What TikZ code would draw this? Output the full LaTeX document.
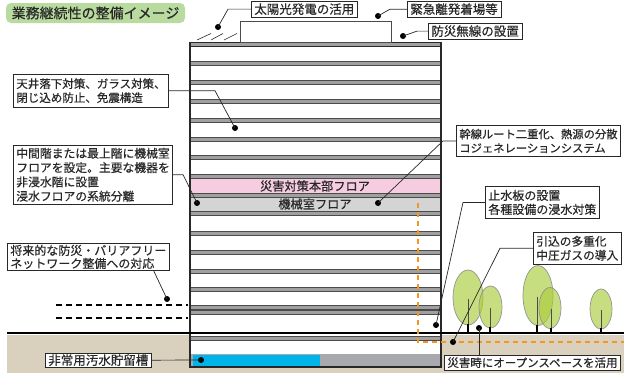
\documentclass[tikz,border=0pt]{standalone}
\usepackage{fontspec}
\setmainfont{Noto Sans CJK JP}[FakeBold=0.5]
\usetikzlibrary{calc}

\definecolor{groundtan}{RGB}{217,208,190}
\definecolor{bandgray}{RGB}{160,160,160}
\definecolor{edgegray}{RGB}{75,75,75}
\definecolor{pinkfloor}{RGB}{246,204,224}
\definecolor{machgray}{RGB}{212,212,212}
\definecolor{basegray}{RGB}{167,169,172}
\definecolor{tankblue}{RGB}{0,180,234}
\definecolor{pipeorange}{RGB}{247,150,30}
\definecolor{leafgreen}{RGB}{170,205,60}
\definecolor{titlegreen}{RGB}{185,219,160}
\definecolor{inkgray}{RGB}{40,40,40}

\newcommand{\setfs}[2]{\fontsize{#1}{#2}\selectfont}

\tikzset{
  wall/.style={draw=inkgray, line width=1.2pt},
  band/.style={draw=edgegray, fill=bandgray, line width=0.7pt},
  lbl/.style={draw=inkgray, fill=white, line width=0.7pt, inner xsep=3pt,
    inner ysep=2pt, align=left, text=inkgray, anchor=north west},
  leader/.style={draw=inkgray, line width=0.7pt},
  dot/.style={circle, fill=black, inner sep=0pt, minimum size=6pt},
  tree/.style={draw=gray!85, line width=0.7pt, fill=leafgreen, fill opacity=0.65},
  trunk/.style={draw=black, line width=1.6pt},
  stem/.style={draw=edgegray, line width=0.6pt},
  floortext/.style={text=inkgray},
}

\begin{document}
\begin{tikzpicture}[x=1pt, y=-1pt]
\useasboundingbox (0,0) rectangle (624,373);
\fill[white] (0,0) rectangle (624,373);

% ground below grade
\fill[groundtan] (7,335) rectangle (624,373);

% building body
\fill[white] (190,42) rectangle (441,367);
\fill[pinkfloor] (190,178) rectangle (441,193);
\fill[machgray] (190,197) rectangle (441,211);
\fill[basegray] (190,354) rectangle (441,367);
\fill[tankblue] (193,355) rectangle (320,366);

% floor slabs
\foreach \y in {61,80,99,118,137,155,174,193,211,231,250,269,287,305,310,336}
  \draw[band] (190,\y) rectangle (441,\y+4);
\draw[band, draw=inkgray, line width=0.9pt] (190,42) rectangle (441,46);

% penthouse on the roof
\draw[draw=edgegray, fill=white, line width=0.8pt] (240,21) rectangle (391,42);

% solar panels
\foreach \a/\b in {197/211, 211/223, 224/237}
  \draw[inkgray, line width=0.6pt] (\a,40) -- (\b,33.5);

% outer walls
\draw[wall] (190,42) -- (190,367) -- (441,367) -- (441,42);

% floor names
\node[floortext, font=\setfs{12.2}{14}] (hqfloor) at (315,186) {災害対策本部フロア};
\node[floortext, font=\setfs{12.2}{14}] (mechfloor) at (315,204) {機械室フロア};

% trees
\foreach \cx/\cy/\rx/\ry/\tx in {468/297.5/15/27.5/468, 490.5/307/11.5/21/490,
    538/295.5/15/30/537, 550/308/11/20.5/551, 601/309/11/20/601}{
  \draw[tree] (\cx,\cy) ellipse [x radius=\rx, y radius=\ry];
  \draw[stem] (\tx,\cy+1) -- (\tx,\cy+\ry-1);
  \draw[trunk] (\tx,\cy+\ry-1) -- (\tx,333);
}

% ground line
\draw[black, line width=2.4pt] (7,333) -- (624,333);

% medium-pressure gas pipe
\draw[pipeorange, line width=1.8pt, dash pattern=on 5pt off 4pt]
  (418,203) -- (418,342) -- (624,342);

% future network lines
\draw[black, line width=1.8pt, dash pattern=on 6pt off 4pt] (56,305) -- (188,305);
\draw[black, line width=1.8pt, dash pattern=on 6pt off 4pt] (56,318) -- (188,318);

% title
\node[fill=titlegreen, rounded corners=5pt, minimum width=179pt, minimum height=20pt,
  inner sep=0pt, text=inkgray, font=\setfs{14}{16}] (title) at (95.5,13) {業務継続性の整備イメージ};

% labels
\node[lbl, font=\setfs{12.5}{14}] (solar) at (251,1) {太陽光発電の活用};
\node[lbl, font=\setfs{12.5}{14}] (heli) at (407,1) {緊急離発着場等};
\node[lbl, font=\setfs{12.5}{14}] (radio) at (428,23) {防災無線の設置};
\node[lbl, font=\setfs{11.5}{14}, inner ysep=4pt] (ceiling) at (13,74)
  {天井落下対策、ガラス対策、\\閉じ込め防止、免震構造};
\node[lbl, font=\setfs{11.8}{14.3}, inner ysep=2.5pt] (mech) at (13,145)
  {中間階または最上階に機械室\\フロアを設定。主要な機器を\\非浸水階に設置\\浸水フロアの系統分離};
\node[lbl, font=\setfs{11.3}{14}, inner ysep=3.5pt] (trunkline) at (456,125)
  {幹線ルート二重化、熱源の分散\\コジェネレーションシステム};
\node[lbl, font=\setfs{12}{14}, inner ysep=3.5pt] (water) at (485,186)
  {止水板の設置\\各種設備の浸水対策};
\node[lbl, font=\setfs{11.7}{14}, inner ysep=3.5pt] (gas) at (533,232)
  {引込の多重化\\中圧ガスの導入};
\node[lbl, font=\setfs{11.5}{14}] (open) at (444,355) {災害時にオープンスペースを活用};
\node[lbl, font=\setfs{12}{13}, inner ysep=1.5pt] (network) at (7,243)
  {将来的な防災・バリアフリー\\ネットワーク整備への対応};
\node[lbl, font=\setfs{12.5}{14}, inner ysep=1pt] (tank) at (45,353) {非常用汚水貯留槽};

% target points
\node[dot] (d1) at (218,27) {};
\node[dot] (d2) at (378,16) {};
\node[dot] (d3) at (403,36) {};
\node[dot] (d4) at (235,128) {};
\node[dot] (d5) at (197,203) {};
\node[dot] (d6) at (378,203) {};
\node[dot] (d7) at (436,325) {};
\node[dot] (d8) at (453,342) {};
\node[dot] (d9) at (479,328) {};
\node[dot] (d10) at (167,299) {};
\node[dot] (d11) at (201,360) {};

% leaders
\draw[leader] (solar.west) -- ++(-23,0) -- (d1.center);
\draw[leader] (heli.west) -- ++(-17,0) -- (d2.center);
\draw[leader] (radio.west) -- ++(-11,0) -- (d3.center);
\draw[leader] (ceiling.east) -- ++(46,0) -- (d4.center);
\draw[leader] (mech.east) -- ++(10,0) -- (d5.center);
\draw[leader] (trunkline.west) -- ++(-13,0) -- (d6.center);
\draw[leader] (water.west) -- ++(-22,0) -- (d7.center);
\draw[leader] (gas.west) -- ++(-33,0) -- (d8.center);
\draw[leader] (d9 |- open.north) -- (d9.center);
\draw[leader] ($(network.south east)+(-16,0)$) -- (d10.center);
\draw[leader] (tank.east) -- (d11.center);
\end{tikzpicture}
\end{document}
